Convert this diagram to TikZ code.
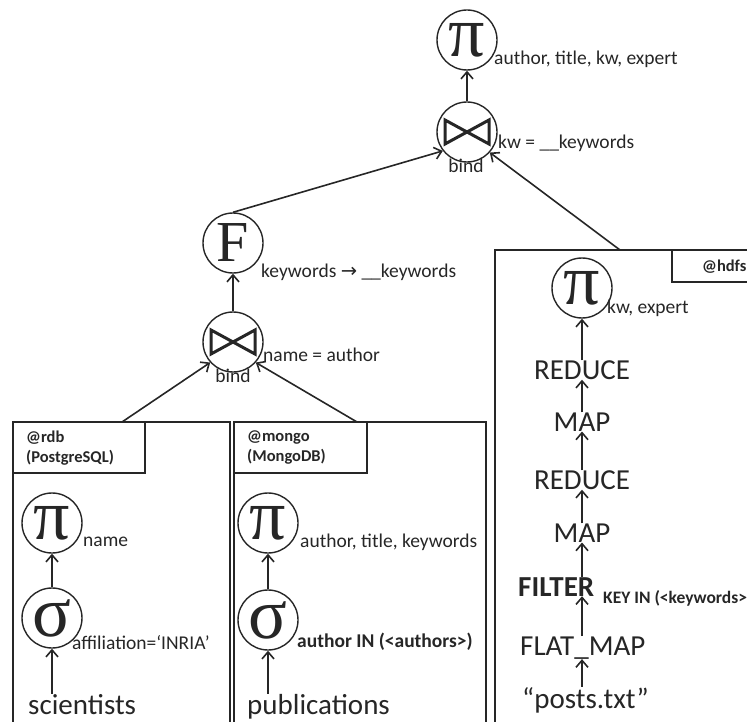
\documentclass[tikz,border=0pt]{standalone}
\usepackage{fontspec}
\setmainfont{Carlito}
\newfontfamily\symfont{Liberation Serif}
\newfontfamily\arrfont{DejaVu Sans}
\usetikzlibrary{arrows.meta}
\begin{document}
\begin{tikzpicture}[x=1pt,y=-1pt]
\tikzset{op/.style={circle, draw, line width=1.4pt, minimum size=60pt, inner sep=0pt, font=\symfont\fontsize{58}{58}\selectfont},
	greek/.style={op, font=\symfont\fontsize{72}{72}\selectfont},
	joinop/.style={op, path picture={\draw[line width=3pt] ([shift={(-22,-12)}]path picture bounding box.center) -- ++(0,24) -- ++(44,-24) -- ++(0,24) -- cycle;}},
	lbl/.style={anchor=west, inner sep=0pt, font=\fontsize{19.5}{19.5}\selectfont},
	bindlbl/.style={anchor=north, inner sep=0pt, font=\fontsize{19.5}{19.5}\selectfont},
	big/.style={inner sep=0pt, font=\fontsize{29}{29}\selectfont},
	tag/.style={align=left, anchor=north west, inner sep=0pt, font=\bfseries\fontsize{16.5}{20}\selectfont},
	flow/.style={-{Straight Barb[length=7pt,width=12pt]}, line width=1.6pt},
	frame/.style={line width=2.8pt},
	tagbox/.style={line width=1.6pt}}
\useasboundingbox (0,0) rectangle (747,722);
\clip (0,0) rectangle (747,722);
\begin{scope}[color=black!85]
% top of the plan
\node[greek] (pitop) at (467,40) {π};
\node[lbl] at (494,59) {author, title, kw, expert};
\node[joinop] (bindtop) at (467,132) {};
\node[lbl] at (498,143) {kw = \_\_keywords};
\node[bindlbl] at (466,159) {bind};
\node[op] (fun) at (233,243) {F};
\node[lbl] at (261,272) {keywords {\arrfont →} \_\_keywords};
\node[joinop] (bindlow) at (233,342) {};
\node[lbl] at (263,355) {name = author};
\node[bindlbl] at (233,369) {bind};
\draw[flow] (bindtop) -- (pitop);
\draw[flow] (bindlow) -- (fun);
\draw[flow] (fun.north) -- (bindtop.218);
% rdb
\draw[frame] (13,760) |- (230,422) -- (230,760);
\draw[tagbox] (13,422) rectangle (145,473);
\node[tag] at (26,431) {@rdb\\(PostgreSQL)};
\coordinate (rdbtop) at (122,422);
\node[greek] (pirdb) at (52,523) {π};
\node[lbl] at (83,542) {name};
\node[greek] (sigrdb) at (52,618) {σ};
\node[lbl] at (72,643) {affiliation=‘INRIA’};
\node[big, anchor=base west] (sci) at (28,714) {scientists};
\draw[flow] (sigrdb) -- (pirdb);
\draw[flow] (sci.north -| sigrdb) -- (sigrdb);
\draw[flow] (rdbtop) -- (bindlow.222);
% mongo
\draw[frame] (234,760) |- (486,422) -- (486,760);
\draw[tagbox] (234,422) rectangle (367,473);
\node[tag] at (247,431) {@mongo\\(MongoDB)};
\coordinate (mongotop) at (357,422);
\node[greek] (pimongo) at (268,523) {π};
\node[lbl] at (300,542) {author, title, keywords};
\node[greek] (sigmongo) at (268,620) {σ};
\node[lbl, font=\bfseries\fontsize{19.5}{19.5}\selectfont] at (297,642) {author IN (<authors>)};
\node[big, anchor=base west] (pub) at (247,714) {publications};
\draw[flow] (sigmongo) -- (pimongo);
\draw[flow] (pub.north -| sigmongo) -- (sigmongo);
\draw[flow] (mongotop) -- (bindlow.318);
% hdfs
\draw[frame] (495,760) |- (760,250);
\draw[tagbox] (672,250) rectangle (760,282);
\node[lbl, font=\bfseries\fontsize{16.5}{16.5}\selectfont] at (702,267) {@hdfs};
\coordinate (hdfstop) at (620,250);
\node[greek] (pihdfs) at (582,288) {π};
\node[lbl] at (607,308) {kw, expert};
\node[big] (red1) at (582,370) {REDUCE};
\node[big] (map1) at (582,422) {MAP};
\node[big] (red2) at (582,480) {REDUCE};
\node[big] (map2) at (582,533) {MAP};
\node[big, anchor=base west, font=\bfseries\fontsize{29}{29}\selectfont] (filt) at (518,596) {FILTER};
\node[lbl, anchor=base west, font=\bfseries\fontsize{17.5}{17.5}\selectfont] at (603,603) {KEY IN (<keywords>)};
\node[big, anchor=base west] (flat) at (520,655) {FLAT\_MAP};
\node[big, anchor=base west] (posts) at (522,708) {“posts.txt”};
\draw[flow] (red1) -- (pihdfs);
\draw[flow] (map1) -- (red1);
\draw[flow] (red2) -- (map1);
\draw[flow] (map2) -- (red2);
\draw[flow] (filt.north -| map2) -- (map2);
\draw[flow] (flat.north -| map2) -- (filt.south -| map2);
\draw[flow] (posts.north -| map2) -- (flat.south -| map2);
\draw[flow] (hdfstop) -- (bindtop.318);
\end{scope}
\end{tikzpicture}
\end{document}
